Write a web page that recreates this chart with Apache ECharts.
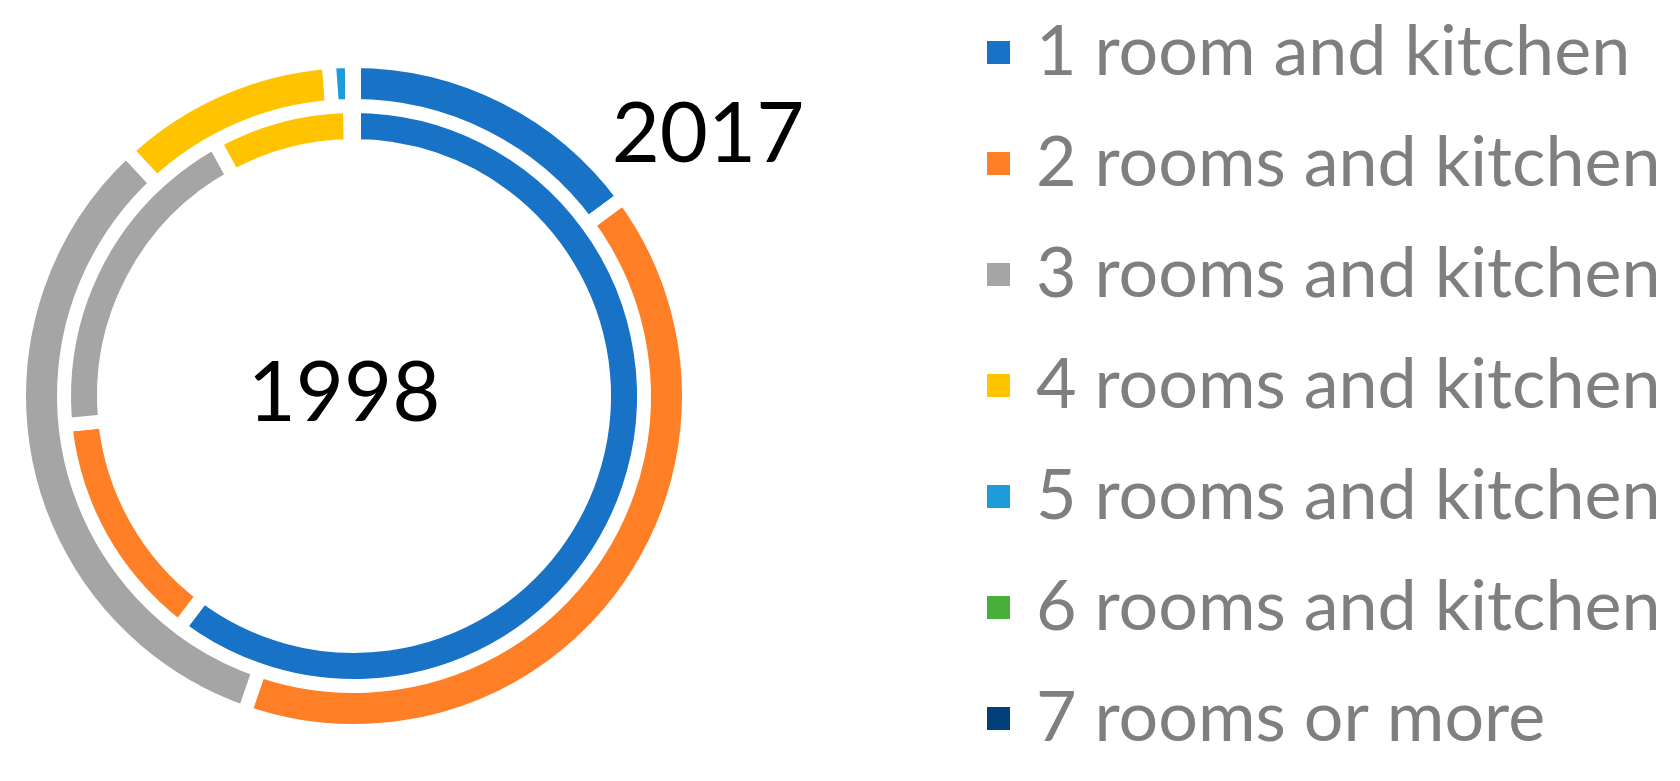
<!DOCTYPE html>
<html>
<head>
<meta charset="utf-8">
<script src="https://cdn.jsdelivr.net/npm/echarts@6/dist/echarts.min.js"></script>
<style>
  html, body { margin: 0; padding: 0; background: #fff; }
  #main { width: 1680px; height: 781px; }
</style>
</head>
<body>
<div id="main"></div>
<script>
// categories (legend order)
const categories = [
  "1 room and kitchen",
  "2 rooms and kitchen",
  "3 rooms and kitchen",
  "4 rooms and kitchen",
  "5 rooms and kitchen",
  "6 rooms and kitchen",
  "7 rooms or more",
];
// shares in %
const values1998 = [60.3, 13.1, 18.6, 7.8, 0.2, 0, 0];
const values2017 = [14.9, 40.4, 32.8, 10.7, 1.1, 0.05, 0.05];
const colors = ["#1873C7", "#FF7F27", "#A5A5A5", "#FFC300", "#1E9CDA", "#47B03A", "#033F7B"];

const chart = echarts.init(document.getElementById("main"));

// build pie data from arrays
const toData = function (vals) {
  return categories.map((name, i) => ({ name: name, value: vals[i] }));
};

const ringStyle = {
  borderColor: "#fff",
  borderWidth: 14,
};

const option = {
  animation: false,
  color: colors,
  legend: {
    orient: "vertical",
    left: 985,
    top: 14,
    padding: 0,
    itemWidth: 25,
    itemHeight: 25,
    itemGap: 34,
    icon: "rect",
    data: categories,
    selectedMode: false,
    textStyle: {
      fontFamily: "Lato",
      fontSize: 70,
      lineHeight: 70,
      color: "#7f7f7f",
      padding: [7, 0, 0, 20],
    },
  },
  graphic: [
    {
      type: "text",
      x: 344,
      y: 394,
      style: {
        text: "1998",
        fontFamily: "Lato",
        fontSize: 83,
        fill: "#000",
        align: "center",
        verticalAlign: "middle",
      },
    },
    {
      type: "text",
      x: 708,
      y: 135,
      style: {
        text: "2017",
        fontFamily: "Lato",
        fontSize: 83,
        fill: "#000",
        align: "center",
        verticalAlign: "middle",
      },
    },
  ],
  series: [
    {
      name: "1998",
      type: "pie",
      center: [354, 396],
      radius: [250, 293],
      startAngle: 90,
      label: { show: false },
      labelLine: { show: false },
      emphasis: { disabled: true },
      itemStyle: ringStyle,
      data: toData(values1998),
    },
    {
      name: "2017",
      type: "pie",
      center: [354, 396],
      radius: [290, 335],
      startAngle: 90,
      label: { show: false },
      labelLine: { show: false },
      emphasis: { disabled: true },
      itemStyle: ringStyle,
      data: toData(values2017),
    },
  ],
};
chart.setOption(option);
</script>
</body>
</html>
